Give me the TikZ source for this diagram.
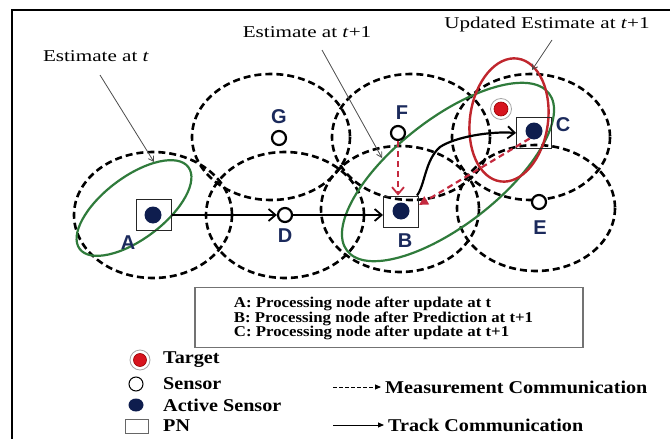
\documentclass[tikz,border=0pt]{standalone}
\usepackage{fontspec}
\setmainfont{Liberation Serif}
\newfontfamily\annfont[FakeStretch=1.28]{Liberation Serif}
\newfontfamily\legfont[FakeStretch=1.12]{Liberation Serif}
\newfontfamily\labfont{Liberation Sans}
\usetikzlibrary{arrows.meta,shapes.geometric}

\definecolor{navy}{HTML}{1B2A5C}
\definecolor{dotnavy}{HTML}{0E1D4E}
\definecolor{estgreen}{HTML}{2F7B3B}
\definecolor{estred}{HTML}{C0262D}
\definecolor{measred}{HTML}{C42A3F}
\definecolor{targetred}{HTML}{D7141E}

\tikzset{
  rangecirc/.style={draw=black, line width=2.6pt, dash pattern=on 7pt off 4pt},
  sensor/.style={circle, draw=black, line width=2.2pt, fill=white, minimum size=14pt, inner sep=0pt},
  active/.style={circle, fill=dotnavy, minimum size=17pt, inner sep=0pt},
  pnbox/.style={draw=black!85, line width=1pt, minimum width=35pt, minimum height=31pt, inner sep=0pt},
  lab/.style={font=\labfont\bfseries\fontsize{20}{20}\selectfont, text=navy, inner sep=0pt},
  track/.style={draw=black, line width=2.2pt, -{Straight Barb[length=7pt,width=12pt,line width=1.8pt]}},
  meas/.style={draw=measred, line width=2.2pt, dash pattern=on 6pt off 4pt},
  measbarb/.style={meas, -{Straight Barb[length=7pt,width=12pt,line width=1.8pt,line cap=butt]}},
  meastri/.style={meas, -{Triangle[length=9pt,width=9pt]}},
  note/.style={font=\annfont\fontsize{16.5}{18}\selectfont, inner sep=0pt},
  pointer/.style={draw=black!70, line width=0.8pt, -{Straight Barb[length=5pt,width=6pt,line width=0.8pt]}},
  legtext/.style={font=\legfont\bfseries\fontsize{18}{20}\selectfont, anchor=west, inner sep=0pt},
  boxtext/.style={font=\legfont\bfseries\fontsize{15}{14.5}\selectfont},
  targetring/.style={circle, draw=gray!70, line width=0.8pt, fill=white, inner sep=0pt},
  targetcore/.style={circle, fill=targetred, draw=red!60!black, line width=0.6pt, inner sep=0pt},
}

\begin{document}
\begin{tikzpicture}[x=1pt,y=-1pt]
  \fill[white] (0,0) rectangle (670,439);
  \useasboundingbox (0,0) rectangle (670,439);

  % outer frame (top and left edges)
  \draw[line width=2.2pt] (12,445) -- (12,10) -- (675,10);

  % sensing ranges
  \foreach \cx/\cy in {153/215, 285/215, 400/209, 536/208, 271/137, 411/137, 531/137}
    \draw[rangecirc] (\cx,\cy) ellipse [x radius=79, y radius=63];

  % estimates
  \draw[estgreen, line width=2.2pt, rotate around={37:(134,208)}]
    (134,208) ellipse [x radius=68, y radius=31];
  \draw[estgreen, line width=2.2pt, rotate around={38:(448,172)}]
    (448,172) ellipse [x radius=128, y radius=53];
  \draw[estred, line width=2.4pt, rotate around={-8:(509,120)}]
    (509,120) ellipse [x radius=39, y radius=62];

  % processing nodes and active sensors
  \node[pnbox] (pA) at (154,215) {};
  \node[active] (sA) at (153,215) {};
  \node[pnbox] (pB) at (401,211.5) {};
  \node[active] (sB) at (401,211) {};
  \node[pnbox] (pC) at (534,133) {};
  \node[active] (sC) at (534,131) {};

  % idle sensors
  \node[sensor] (sD) at (285,215) {};
  \node[sensor] (sE) at (539,202) {};
  \node[sensor] (sF) at (398,133) {};
  \node[sensor] (sG) at (279,138) {};

  % target
  \node[targetring, minimum size=21pt] (tgt) at (501,109) {};
  \node[targetcore, minimum size=14pt] (tgtcore) at (tgt) {};

  % sensor labels
  \node[lab] (lA) at (128,243) {A};
  \node[lab] (lB) at (405,241) {B};
  \node[lab] (lC) at (563,125) {C};
  \node[lab] (lD) at (285,236) {D};
  \node[lab] (lE) at (540,228) {E};
  \node[lab] (lF) at (402,113) {F};
  \node[lab] (lG) at (279,117) {G};

  % track communication
  \draw[track] (pA.east) -- (sD.west);
  \draw[track] (sD.east) -- (sD.east -| pB.west);
  \draw[track] ([xshift=-2pt]pB.north east) .. controls (425,185) and (425,160) .. (440,147)
    .. controls (455,137) and (490,131) .. (pC.west);

  % measurement communication
  \draw[measbarb] (sF.south) -- (sF.south |- pB.north);
  \draw[meastri] (sC.240) -- (pB.20);

  % annotations
  \node[note] (nA) at (96,56) {Estimate at \textit{t}};
  \node[note] (nB) at (307,32) {Estimate at \textit{t}+1};
  \node[note] (nC) at (547,25) {Updated Estimate at \textit{t}+1};
  \coordinate (nA1) at (100,75);
  \coordinate (nA2) at (154,162);
  \coordinate (nB1) at (322,50);
  \coordinate (nB2) at (382,158);
  \coordinate (nC1) at (552,40);
  \coordinate (nC2) at (532,70);
  \draw[pointer] (nA1) -- (nA2);
  \draw[pointer] (nB1) -- (nB2);
  \draw[pointer] (nC1) -- (nC2);

  % processing-node key
  \node[draw=black!55, line width=1.2pt, minimum width=388pt, minimum height=60pt, inner sep=0pt] (key) at (389,317.5) {};
  \node[boxtext, align=left] (keytext) at (383.5,318.5) {A: Processing node after update at t\\B: Processing node after Prediction at t+1\\C: Processing node after update at t+1};

  % symbol legend
  \node[targetring, minimum size=20pt] (legT) at (140,360) {};
  \node[targetcore, minimum size=13pt] (legTc) at (legT) {};
  \node[circle, draw=black, line width=1pt, minimum size=14pt, inner sep=0pt] (legS) at (136,384) {};
  \node[ellipse, fill=dotnavy, minimum width=15pt, minimum height=13pt, inner sep=0pt] (legA) at (136,405) {};
  \node[draw=black!60, line width=1pt, minimum width=23pt, minimum height=14pt, inner sep=0pt] (legP) at (136.5,426) {};

  \node[legtext] (tT) at (163,360) {Target};
  \node[legtext] (tS) at (163,384) {Sensor};
  \node[legtext] (tA) at (163,405) {Active Sensor};
  \node[legtext] (tP) at (163,426) {PN};

  \node[legtext] (tM) at (385,387) {Measurement Communication};
  \node[legtext] (tK) at (388,425) {Track Communication};
  \coordinate (mS) at (333,387);
  \coordinate (kS) at (333,425);
  \draw[line width=0.9pt, dash pattern=on 3.5pt off 2.5pt, -{Triangle[length=6pt,width=5pt]}] (mS) -- ([xshift=-4pt]tM.west);
  \draw[line width=0.9pt, -{Triangle[length=6pt,width=5pt]}] (kS) -- ([xshift=-4pt]tK.west);
\end{tikzpicture}
\end{document}
